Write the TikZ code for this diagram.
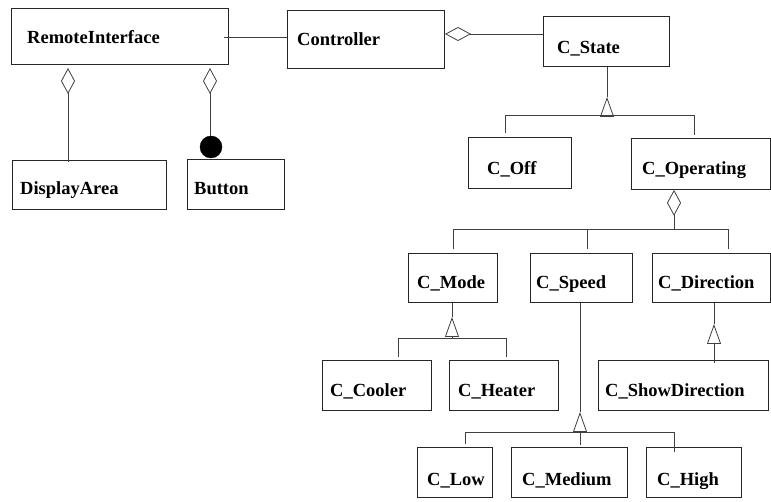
\documentclass[tikz,border=0pt]{standalone}
\usepackage{fontspec}
\setmainfont{Liberation Serif}
\usetikzlibrary{arrows.meta}
\begin{document}
\begin{tikzpicture}[x=1pt,y=-1pt,
  cls/.style={draw=black!85, line width=0.9pt, rectangle, inner sep=0pt, anchor=north west},
  lbl/.style={anchor=base west, inner sep=0pt, font=\fontsize{18.5}{20}\selectfont\bfseries},
  link/.style={draw=black!75, line width=0.8pt},
  agg/.style={link, {Diamond[open,length=26pt,width=14pt]}-},
  gen/.style={link, -{Triangle[open,length=20pt,width=14pt]}},
]
\useasboundingbox (0,0) rectangle (771,502);

% class boxes
\node[cls, minimum width=217pt, minimum height=56pt] (ri)     at (11,8)    {};
\node[cls, minimum width=157pt, minimum height=58pt] (ctrl)   at (287,10)  {};
\node[cls, minimum width=126pt, minimum height=50pt] (cstate) at (543,16)  {};
\node[cls, minimum width=154pt, minimum height=49pt] (da)     at (12,160)  {};
\node[cls, minimum width=97pt,  minimum height=50pt] (btn)    at (187,159) {};
\node[cls, minimum width=103pt, minimum height=51pt] (coff)   at (468,137) {};
\node[cls, minimum width=139pt, minimum height=51pt] (coper)  at (631,138) {};
\node[cls, minimum width=89pt,  minimum height=49pt] (cmode)  at (408,253) {};
\node[cls, minimum width=102pt, minimum height=49pt] (cspeed) at (530,253) {};
\node[cls, minimum width=118pt, minimum height=49pt] (cdir)   at (652,253) {};
\node[cls, minimum width=109pt, minimum height=50pt] (ccool)  at (322,360) {};
\node[cls, minimum width=109pt, minimum height=50pt] (cheat)  at (449,360) {};
\node[cls, minimum width=170pt, minimum height=50pt] (cshow)  at (598,360) {};
\node[cls, minimum width=75pt,  minimum height=50pt] (clow)   at (417,447) {};
\node[cls, minimum width=116pt, minimum height=50pt] (cmed)   at (511,447) {};
\node[cls, minimum width=95pt,  minimum height=50pt] (chigh)  at (646,447) {};

% class names
\node[lbl] (ri-t)     at (27,44)   {RemoteInterface};
\node[lbl] (ctrl-t)   at (297,46)  {Controller};
\node[lbl] (cstate-t) at (557,54)  {C\_State};
\node[lbl] (da-t)     at (20,195)  {DisplayArea};
\node[lbl] (btn-t)    at (194,195) {Button};
\node[lbl] (coff-t)   at (487,175) {C\_Off};
\node[lbl] (coper-t)  at (642,175) {C\_Operating};
\node[lbl] (cmode-t)  at (417,289) {C\_Mode};
\node[lbl] (cspeed-t) at (536,289) {C\_Speed};
\node[lbl] (cdir-t)   at (658,289) {C\_Direction};
\node[lbl] (ccool-t)  at (330,397) {C\_Cooler};
\node[lbl] (cheat-t)  at (458,397) {C\_Heater};
\node[lbl] (cshow-t)  at (605,397) {C\_ShowDirection};
\node[lbl] (clow-t)   at (427,485) {C\_Low};
\node[lbl] (cmed-t)   at (522,485) {C\_Medium};
\node[lbl] (chigh-t)  at (657,485) {C\_High};

% interface ball on Button
\node[circle, fill=black, draw=black, minimum size=22pt, inner sep=0pt] (knob) at (211,147) {};

% association RemoteInterface -- Controller
\coordinate (ri-c) at (224,37);
\draw[link] (ri-c) -- (ctrl.west |- ri-c);

% aggregation Controller <>-- C_State
\coordinate (c-d) at (445,34);
\draw[agg] (c-d) -- (cstate.west |- c-d);

% aggregations of RemoteInterface
\coordinate (ri-d1) at (68,68);
\coordinate (ri-d2) at (210,68);
\draw[agg] (ri-d1) -- ([yshift=-2pt]da.north -| ri-d1);
\draw[agg] (ri-d2) -- (knob.north -| ri-d2);

% C_State specialisations
\coordinate (s-apex) at (607,97);
\coordinate (s-base) at (607,115);
\coordinate (s-l) at (505,115);
\coordinate (s-r) at (694,115);
\draw[link] (cstate.south -| s-apex) -- (s-apex);
\draw[gen] (s-base) -- (s-apex);
\draw[link] ([yshift=4pt]coff.north -| s-l) -- (s-l) -- (s-r) -- ([yshift=3pt]coper.north -| s-r);

% C_Operating parts
\coordinate (o-bar) at (674,229);
\coordinate (o-l) at (453,229);
\coordinate (o-m) at (587,229);
\coordinate (o-r) at (728,229);
\draw[agg] (coper.south -| o-bar) -- (o-bar);
\draw[link] ([yshift=4pt]cmode.north -| o-l) -- (o-l) -- (o-r) -- ([yshift=4pt]cdir.north -| o-r);
\draw[link] (o-m) -- ([yshift=4pt]cspeed.north -| o-m);

% C_Mode specialisations
\coordinate (m-apex) at (452,317);
\coordinate (m-base) at (452,338);
\coordinate (m-l) at (398,338);
\coordinate (m-r) at (506,338);
\draw[link] (cmode.south -| m-apex) -- (m-apex);
\draw[gen] (m-base) -- (m-apex);
\draw[link] ([yshift=3pt]ccool.north -| m-l) -- (m-l) -- (m-r) -- ([yshift=3pt]cheat.north -| m-r);

% C_Direction specialisation
\coordinate (d-apex) at (714,324);
\coordinate (d-base) at (714,343);
\draw[link] (cdir.south -| d-apex) -- (d-apex);
\draw[gen] (d-base) -- (d-apex);
\draw[link] (d-base) -- ([yshift=-3pt]cshow.north -| d-base);

% C_Speed specialisations
\coordinate (sp-apex) at (580,412);
\coordinate (sp-base) at (580,432);
\coordinate (sp-l) at (465,432);
\coordinate (sp-r) at (674,432);
\draw[link] (cspeed.south -| sp-apex) -- (sp-apex);
\draw[gen] (sp-base) -- (sp-apex);
\draw[link] ([yshift=3pt]clow.north -| sp-l) -- (sp-l) -- (sp-r) -- ([yshift=-5pt]chigh.north -| sp-r);
\draw[link] (sp-base) -- ([yshift=2pt]cmed.north -| sp-base);
\end{tikzpicture}
\end{document}
